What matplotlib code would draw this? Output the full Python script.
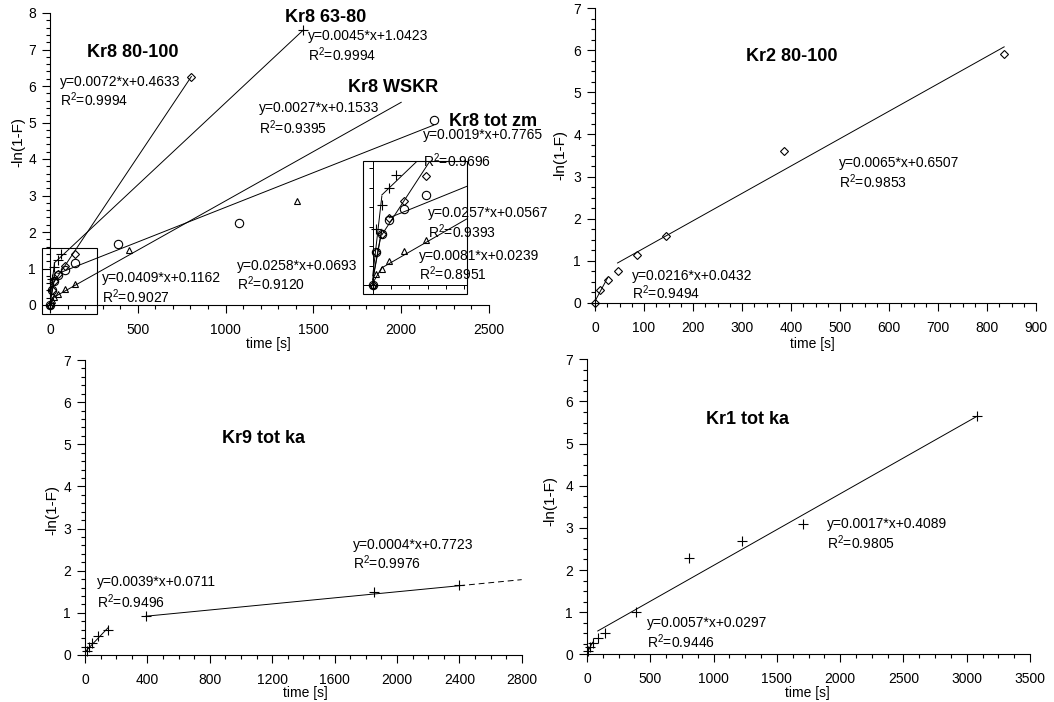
import numpy as np
import matplotlib
matplotlib.use("Agg")
import matplotlib.pyplot as plt
from matplotlib.patches import Rectangle
from matplotlib.ticker import MultipleLocator

plt.rcParams["font.family"] = ["Liberation Sans", "DejaVu Sans"]
plt.rcParams["mathtext.default"] = "regular"

W, H = 1054, 702

# --- Kr8 (top left): four sub-samples ---
kr8_80_100_t = [0, 10, 25, 45, 85, 145, 805]
kr8_80_100_y = [0, 0.42, 0.66, 0.86, 1.08, 1.40, 6.25]
kr8_63_80_t = [0, 10, 25, 45, 65, 1440]
kr8_63_80_y = [0, 0.72, 1.03, 1.24, 1.41, 7.53]
kr8_wskr_t = [0, 10, 25, 45, 85, 145, 450, 1405, 1985]
kr8_wskr_y = [0, 0.14, 0.21, 0.31, 0.44, 0.58, 1.51, 2.85, 6.10]
kr8_totzm_t = [0, 10, 25, 45, 85, 145, 385, 1075, 2185]
kr8_totzm_y = [0, 0.42, 0.65, 0.83, 0.97, 1.16, 1.67, 2.25, 5.08]

# fits: (slope, intercept, t_from, t_to)
kr8_fits = [
    (0.0258, 0.0693, 0, 25), (0.0072, 0.4633, 25, 805),    # 80-100
    (0.0409, 0.1162, 0, 25), (0.0045, 1.0423, 25, 1440),   # 63-80
    (0.0081, 0.0239, 0, 25), (0.0027, 0.1533, 25, 2000),   # WSKR
    (0.0257, 0.0567, 0, 25), (0.0019, 0.7765, 45, 2185),   # tot zm
]

# --- Kr2 80-100 (top right) ---
kr2_t = [0, 10, 26, 46, 86, 145, 386, 835]
kr2_y = [0, 0.32, 0.54, 0.76, 1.13, 1.58, 3.60, 5.91]
kr2_fits = [(0.0216, 0.0432, 0, 26), (0.0065, 0.6507, 46, 835)]

# --- Kr9 tot ka (bottom left) ---
kr9_t = [10, 25, 45, 85, 145, 390, 1855, 2400]
kr9_y = [0.10, 0.20, 0.28, 0.45, 0.60, 0.92, 1.50, 1.66]
kr9_fits = [(0.0039, 0.0711, 0, 150), (0.00036, 0.78, 390, 2400)]
kr9_extrap = (0.00036, 0.78, 2400, 2800)

# --- Kr1 tot ka (bottom right) ---
kr1_t = [10, 25, 45, 85, 145, 385, 805, 1225, 1705, 3085]
kr1_y = [0.09, 0.18, 0.26, 0.38, 0.51, 1.01, 2.28, 2.70, 3.09, 5.66]
kr1_fits = [(0.0057, 0.0297, 0, 45), (0.0017, 0.4089, 85, 3085)]


def add_axes_px(fig, x0, x1, ytop, ybot):
    return fig.add_axes([x0 / W, (H - ybot) / H, (x1 - x0) / W, (ybot - ytop) / H])


def style_axes(ax, xmax, ymax, xmaj, xmin, ymaj, ymin):
    ax.set_xlim(0, xmax)
    ax.set_ylim(0, ymax)
    for s in ["top", "right"]:
        ax.spines[s].set_visible(False)
    for s in ["left", "bottom"]:
        ax.spines[s].set_linewidth(0.8)
    ax.xaxis.set_major_locator(MultipleLocator(xmaj))
    ax.xaxis.set_minor_locator(MultipleLocator(xmin))
    ax.yaxis.set_major_locator(MultipleLocator(ymaj))
    ax.yaxis.set_minor_locator(MultipleLocator(ymin))
    ax.tick_params(which="major", direction="out", length=6, width=0.8, labelsize=10)
    ax.tick_params(which="minor", direction="out", length=3, width=0.8)
    ax.tick_params(axis="x", pad=7)
    ax.tick_params(axis="y", pad=4)
    ax.set_facecolor("none")


def draw_fit(ax, fit, **kw):
    a, b, t0, t1 = fit
    xs = np.array([t0, t1], dtype=float)
    ax.plot(xs, a * xs + b, color="k", lw=0.7, **kw)


def draw_pts(ax, t, y, marker, ms, clip=False):
    ax.plot(t, y, ls="none", marker=marker, mfc="none", mec="k", ms=ms,
            mew=0.8, clip_on=clip)


def eq_label(ax, x, y1, y2, eq, r2):
    ax.text(x, y1, eq, fontsize=10, va="center", ha="left")
    ax.text(x, y2, "R$^2$=" + r2, fontsize=10, va="center", ha="left")


def set_labels(ax, xl_x, xl_y, yl_x, yl_y):
    ax.set_xlabel("time [s]", fontsize=10)
    ax.set_ylabel("-ln(1-F)", fontsize=11)
    ax.xaxis.set_label_coords(xl_x, xl_y)
    ax.yaxis.set_label_coords(yl_x, yl_y)


def plot_kr8(ax, clip):
    draw_pts(ax, kr8_80_100_t, kr8_80_100_y, "D", 4.5, clip)
    draw_pts(ax, kr8_63_80_t, kr8_63_80_y, "+", 7, clip)
    draw_pts(ax, kr8_wskr_t, kr8_wskr_y, "^", 5, clip)
    draw_pts(ax, kr8_totzm_t, kr8_totzm_y, "o", 6, clip)
    for f in kr8_fits:
        draw_fit(ax, f)


def main():
    fig = plt.figure(figsize=(W / 100, H / 100), dpi=100)

    # --- top left: Kr8 ---
    ax = add_axes_px(fig, 50, 489, 13, 305)
    style_axes(ax, 2500, 8, 500, 100, 1, 0.2)
    plot_kr8(ax, clip=False)
    ax.add_patch(Rectangle((-46, -0.25), 314, 1.81, fill=False, ec="k",
                           lw=0.8, clip_on=False))
    title_kw = dict(fontsize=13, fontweight="bold", va="center", ha="left")
    ax.text(211, 6.93, "Kr8 80-100", **title_kw)
    ax.text(1338, 7.89, "Kr8 63-80", **title_kw)
    ax.text(1697, 5.97, "Kr8 WSKR", zorder=5,
            bbox=dict(fc="white", ec="none", pad=0.3), **title_kw)
    ax.text(2272, 5.04, "Kr8 tot zm", **title_kw)
    eq_label(ax, 57, 6.11, 5.62, "y=0.0072*x+0.4633", "0.9994")
    eq_label(ax, 1469, 7.37, 6.85, "y=0.0045*x+1.0423", "0.9994")
    eq_label(ax, 1190, 5.40, 4.85, "y=0.0027*x+0.1533", "0.9395")
    eq_label(ax, 2124, 4.66, 3.95, "y=0.0019*x+0.7765", "0.9696")
    eq_label(ax, 2153, 2.52, 2.00, "y=0.0257*x+0.0567", "0.9393")
    eq_label(ax, 2101, 1.34, 0.85, "y=0.0081*x+0.0239", "0.8951")
    eq_label(ax, 296, 0.74, 0.22, "y=0.0409*x+0.1162", "0.9027")
    eq_label(ax, 1065, 1.07, 0.58, "y=0.0258*x+0.0693", "0.9120")
    set_labels(ax, 0.497, -0.11, -0.055, 0.558)

    # inset: magnified start of the Kr8 curves
    ins = add_axes_px(fig, 363, 467, 161, 294)
    ins.set_facecolor("none")
    ins.set_xlim(-26.5, 257.7)
    ins.set_ylim(-0.115, 1.59)
    plot_kr8(ins, clip=True)
    for s in ["top", "right"]:
        ins.spines[s].set_visible(False)
    for s in ["left", "bottom"]:
        ins.spines[s].set_position(("data", 0))
        ins.spines[s].set_linewidth(0.7)
    ins.add_patch(Rectangle((0, 0), 1, 1, transform=ins.transAxes, fill=False,
                            ec="k", lw=0.8, clip_on=False))
    ins.xaxis.set_major_locator(MultipleLocator(50))
    ins.yaxis.set_major_locator(MultipleLocator(0.25))
    ins.tick_params(direction="out", length=3, width=0.7,
                    labelbottom=False, labelleft=False)

    # --- top right: Kr2 ---
    ax = add_axes_px(fig, 595, 1036, 8, 303)
    style_axes(ax, 900, 7, 100, 25, 1, 0.25)
    draw_pts(ax, kr2_t, kr2_y, "D", 4.5)
    for f in kr2_fits:
        draw_fit(ax, f)
    ax.text(308, 5.84, "Kr2 80-100", **title_kw)
    eq_label(ax, 498, 3.32, 2.87, "y=0.0065*x+0.6507", "0.9853")
    eq_label(ax, 75.5, 0.64, 0.24, "y=0.0216*x+0.0432", "0.9494")
    set_labels(ax, 0.494, -0.115, -0.0635, 0.5)

    # --- bottom left: Kr9 ---
    ax = add_axes_px(fig, 85, 521.7, 360, 655)
    style_axes(ax, 2800, 7, 400, 100, 1, 0.2)
    draw_pts(ax, kr9_t, kr9_y, "+", 7)
    for f in kr9_fits:
        draw_fit(ax, f)
    draw_fit(ax, kr9_extrap, ls=(0, (6, 4)), clip_on=False)
    ax.text(878, 5.13, "Kr9 tot ka", **title_kw)
    eq_label(ax, 77, 1.73, 1.26, "y=0.0039*x+0.0711", "0.9496")
    eq_label(ax, 1718, 2.61, 2.18, "y=0.0004*x+0.7723", "0.9976")
    set_labels(ax, 0.504, -0.105, -0.0595, 0.49)

    # --- bottom right: Kr1 ---
    ax = add_axes_px(fig, 587, 1030, 359.3, 654.3)
    style_axes(ax, 3500, 7, 500, 125, 1, 0.25)
    draw_pts(ax, kr1_t, kr1_y, "+", 7)
    for f in kr1_fits:
        draw_fit(ax, f)
    ax.text(940, 5.58, "Kr1 tot ka", **title_kw)
    eq_label(ax, 1896, 3.09, 2.64, "y=0.0017*x+0.4089", "0.9805")
    eq_label(ax, 474, 0.74, 0.29, "y=0.0057*x+0.0297", "0.9446")
    set_labels(ax, 0.497, -0.108, -0.068, 0.52)

    fig.savefig("out.png", dpi=100)
    plt.close(fig)


if __name__ == "__main__":
    main()
